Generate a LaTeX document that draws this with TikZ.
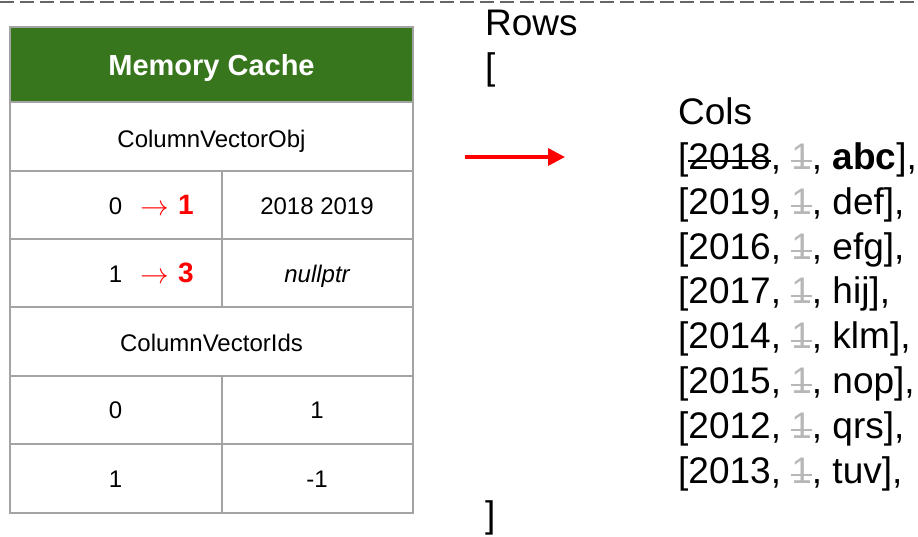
\documentclass[tikz,border=0pt]{standalone}
\usepackage{fontspec}
\setmainfont{Liberation Sans}
\usetikzlibrary{arrows.meta}

\definecolor{hdrgreen}{HTML}{38761D}
\definecolor{gridgray}{HTML}{A3A3A3}
\definecolor{dimgray}{HTML}{B7B7B7}
\definecolor{dashgray}{HTML}{666666}

% struck-through text: a rule laid over the box of its argument
\newcommand\struck[1]{\setbox0\hbox{#1}\rlap{\rule[7pt]{\wd0}{2pt}}\box0}
\newcommand\gone{\textcolor{dimgray}{\struck{1}}}
% enlarged maps-to arrow
\newcommand\bigto{\scalebox{1.15}{$\rightarrow$}}

\tikzset{
  cell/.style={anchor=base, inner sep=0pt, font=\fontsize{24}{28}\selectfont},
  hdr/.style={anchor=base, inner sep=0pt, text=white, font=\fontsize{29}{34}\bfseries},
  redmark/.style={anchor=base west, inner sep=0pt, text=red, font=\fontsize{28}{32}\bfseries},
  redto/.style={anchor=base west, inner sep=0pt, text=red, font=\fontsize{24}{28}\selectfont},
  listline/.style={anchor=base west, inner sep=0pt, font=\fontsize{37}{44}\selectfont},
  gridline/.style={draw=gridgray, line width=2pt},
  dashline/.style={draw=dashgray, line width=2.5pt, dash pattern=on 14pt off 6pt},
  pointer/.style={draw=red, line width=3.5pt, -{Triangle[length=17pt,width=17pt]}}
}

\begin{document}
\begin{tikzpicture}[x=1pt, y=-1pt]
\useasboundingbox (0,0) rectangle (918,536);

% top separator
\coordinate (dashL) at (0,2);
\coordinate (dashR) at (918,2);
\draw[dashline] (dashL) -- (dashR);

% table: header band, grid
\fill[hdrgreen] (10,27) rectangle (413,102);
\draw[gridline] (10,27) rectangle (413,513);
\foreach \yy in {102,171,239,307,376,444}
  \draw[gridline] (10,\yy) -- (413,\yy);
\draw[gridline] (221.5,171) -- (221.5,307);
\draw[gridline] (221.5,376) -- (221.5,513);

% table texts
\node[hdr] (title) at (211.5,75) {Memory Cache};
\node[cell] (cvo) at (211.5,147) {ColumnVectorObj};

\node[cell] (k0) at (115.5,214) {0};
\node[redto] (k0to) at (140,215) {\bigto};
\node[redmark] (k0new) at (178,214) {1};
\node[cell] (v0) at (317,214) {2018 2019};

\node[cell] (k1) at (115.5,282) {1};
\node[redto] (k1to) at (140,283) {\bigto};
\node[redmark] (k1new) at (178,282) {3};
\node[cell, font=\fontsize{24}{28}\itshape] (v1) at (317,282) {nullptr};

\node[cell] (cvi) at (211.5,351) {ColumnVectorIds};

\node[cell] (i0) at (115.5,418.5) {0};
\node[cell] (j0) at (317,418.5) {1};
\node[cell] (i1) at (115.5,487) {1};
\node[cell] (j1) at (317,487) {-1};

% pointer into the row list
\coordinate (ptrS) at (465,157);
\coordinate (ptrE) at (565,157);
\draw[pointer] (ptrS) -- (ptrE);

% row list
\node[listline] (rowsHead) at (485,35) {Rows};
\node[listline] (rowsOpen) at (485,79.8) {[};
\node[listline] (colsHead) at (678,124.6) {Cols};
\node[listline] (r1) at (678,169.4) {[\struck{2018}, \gone, \textbf{abc}],};
\node[listline] (r2) at (678,214.2) {[2019, \gone, def],};
\node[listline] (r3) at (678,259) {[2016, \gone, efg],};
\node[listline] (r4) at (678,303.8) {[2017, \gone, hij],};
\node[listline] (r5) at (678,348.6) {[2014, \gone, klm],};
\node[listline] (r6) at (678,393.4) {[2015, \gone, nop],};
\node[listline] (r7) at (678,438.2) {[2012, \gone, qrs],};
\node[listline] (r8) at (678,483) {[2013, \gone, tuv],};
\node[listline] (rowsClose) at (485,527.8) {]};
\end{tikzpicture}
\end{document}
